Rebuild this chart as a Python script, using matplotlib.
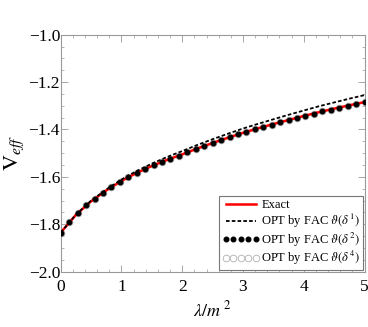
import matplotlib
matplotlib.use("Agg")
import matplotlib.pyplot as plt
from matplotlib.ticker import MultipleLocator

plt.rcParams['font.family'] = ['Liberation Serif', 'DejaVu Serif']
plt.rcParams['mathtext.fontset'] = 'stix'

# exact curve and OPT O(delta^1)
lam = [0.0, 0.25, 0.5, 0.75, 1.0, 1.25, 1.5, 1.75, 2.0, 2.25, 2.5,
       2.75, 3.0, 3.25, 3.5, 3.75, 4.0, 4.25, 4.5, 4.75, 5.0]
v_exact = [-1.835, -1.760, -1.703, -1.657, -1.617, -1.583, -1.554, -1.528,
           -1.505, -1.480, -1.457, -1.435, -1.414, -1.395, -1.377, -1.360,
           -1.343, -1.327, -1.312, -1.298, -1.2845]
v_opt1 = [-1.835, -1.759, -1.700, -1.653, -1.611, -1.575, -1.544, -1.516,
          -1.491, -1.465, -1.441, -1.418, -1.396, -1.376, -1.357, -1.338,
          -1.320, -1.302, -1.286, -1.270, -1.255]

# OPT O(delta^2) and O(delta^4) sample points
lam_pts = [0.0, 0.139, 0.278, 0.417, 0.556, 0.694, 0.833, 0.972, 1.111, 1.25,
           1.389, 1.528, 1.667, 1.806, 1.944, 2.083, 2.222, 2.361, 2.5, 2.639,
           2.778, 2.917, 3.056, 3.194, 3.333, 3.472, 3.611, 3.75, 3.889, 4.028,
           4.167, 4.306, 4.444, 4.583, 4.722, 4.861, 5.0]
v_opt2 = [-1.835, -1.790, -1.753, -1.720, -1.693, -1.666, -1.643, -1.621,
          -1.601, -1.583, -1.566, -1.550, -1.536, -1.523, -1.511, -1.497,
          -1.483, -1.470, -1.457, -1.444, -1.433, -1.421, -1.410, -1.399,
          -1.389, -1.379, -1.369, -1.360, -1.350, -1.341, -1.333, -1.324,
          -1.316, -1.308, -1.300, -1.292, -1.2845]
v_opt4 = v_opt2

yticks = [-2.0, -1.8, -1.6, -1.4, -1.2, -1.0]
ytick_labels = ['\u22122.0', '\u22121.8', '\u22121.6', '\u22121.4', '\u22121.2', '\u22121.0']

fig = plt.figure(figsize=(3.68, 3.27), dpi=100)
ax = fig.add_axes([0.165, 0.169, 0.8255, 0.725])

ax.plot(lam_pts, v_opt4, linestyle='none', marker='o', markersize=4.8,
        markerfacecolor='none', markeredgecolor='#b0b0b0', markeredgewidth=0.6,
        label=r'OPT by FAC $\vartheta(\delta^4)$', zorder=2)
ax.plot(lam, v_exact, color='red', linewidth=1.8, label='Exact', zorder=3)
ax.plot(lam, v_opt1, color='black', linestyle=(0, (2.0, 1.2)), linewidth=1.3,
        label=r'OPT by FAC $\vartheta(\delta^1)$', zorder=4)
ax.plot(lam_pts, v_opt2, linestyle='none', marker='o', markersize=3.3,
        color='black', label=r'OPT by FAC $\vartheta(\delta^2)$', zorder=5)

ax.set_xlim(0, 5)
ax.set_ylim(-2.0, -1.0)
ax.xaxis.set_major_locator(MultipleLocator(1))
ax.xaxis.set_minor_locator(MultipleLocator(0.2))
ax.set_yticks(yticks)
ax.set_yticklabels(ytick_labels)
ax.yaxis.set_minor_locator(MultipleLocator(0.05))
ax.tick_params(which='both', direction='in', top=True, right=True,
               color='#999999', labelsize=12.5)
ax.tick_params(which='major', length=5, width=0.6)
ax.tick_params(which='minor', length=2.5, width=0.5)
ax.tick_params(axis='y', pad=0.5)
ax.tick_params(axis='x', pad=5)
for s in ax.spines.values():
    s.set_color('#999999')
    s.set_linewidth(0.8)

ax.set_xlabel(r'$\lambda/m^{\ 2}$', fontsize=13, labelpad=4)
ax.set_ylabel(r'$\mathrm{V}_{eff}$', fontsize=16, labelpad=1.5)

handles, labels = ax.get_legend_handles_labels()
order = [1, 2, 3, 0]
leg = ax.legend([handles[i] for i in order], [labels[i] for i in order],
                loc='lower right', fontsize=9, numpoints=5, handlelength=3.0,
                handletextpad=0.15, labelspacing=0.05, borderpad=0.25,
                borderaxespad=0.1, fancybox=False, framealpha=1)
leg.get_frame().set_edgecolor('#777777')
leg.get_frame().set_linewidth(0.8)

fig.savefig("out.png", dpi=100)
